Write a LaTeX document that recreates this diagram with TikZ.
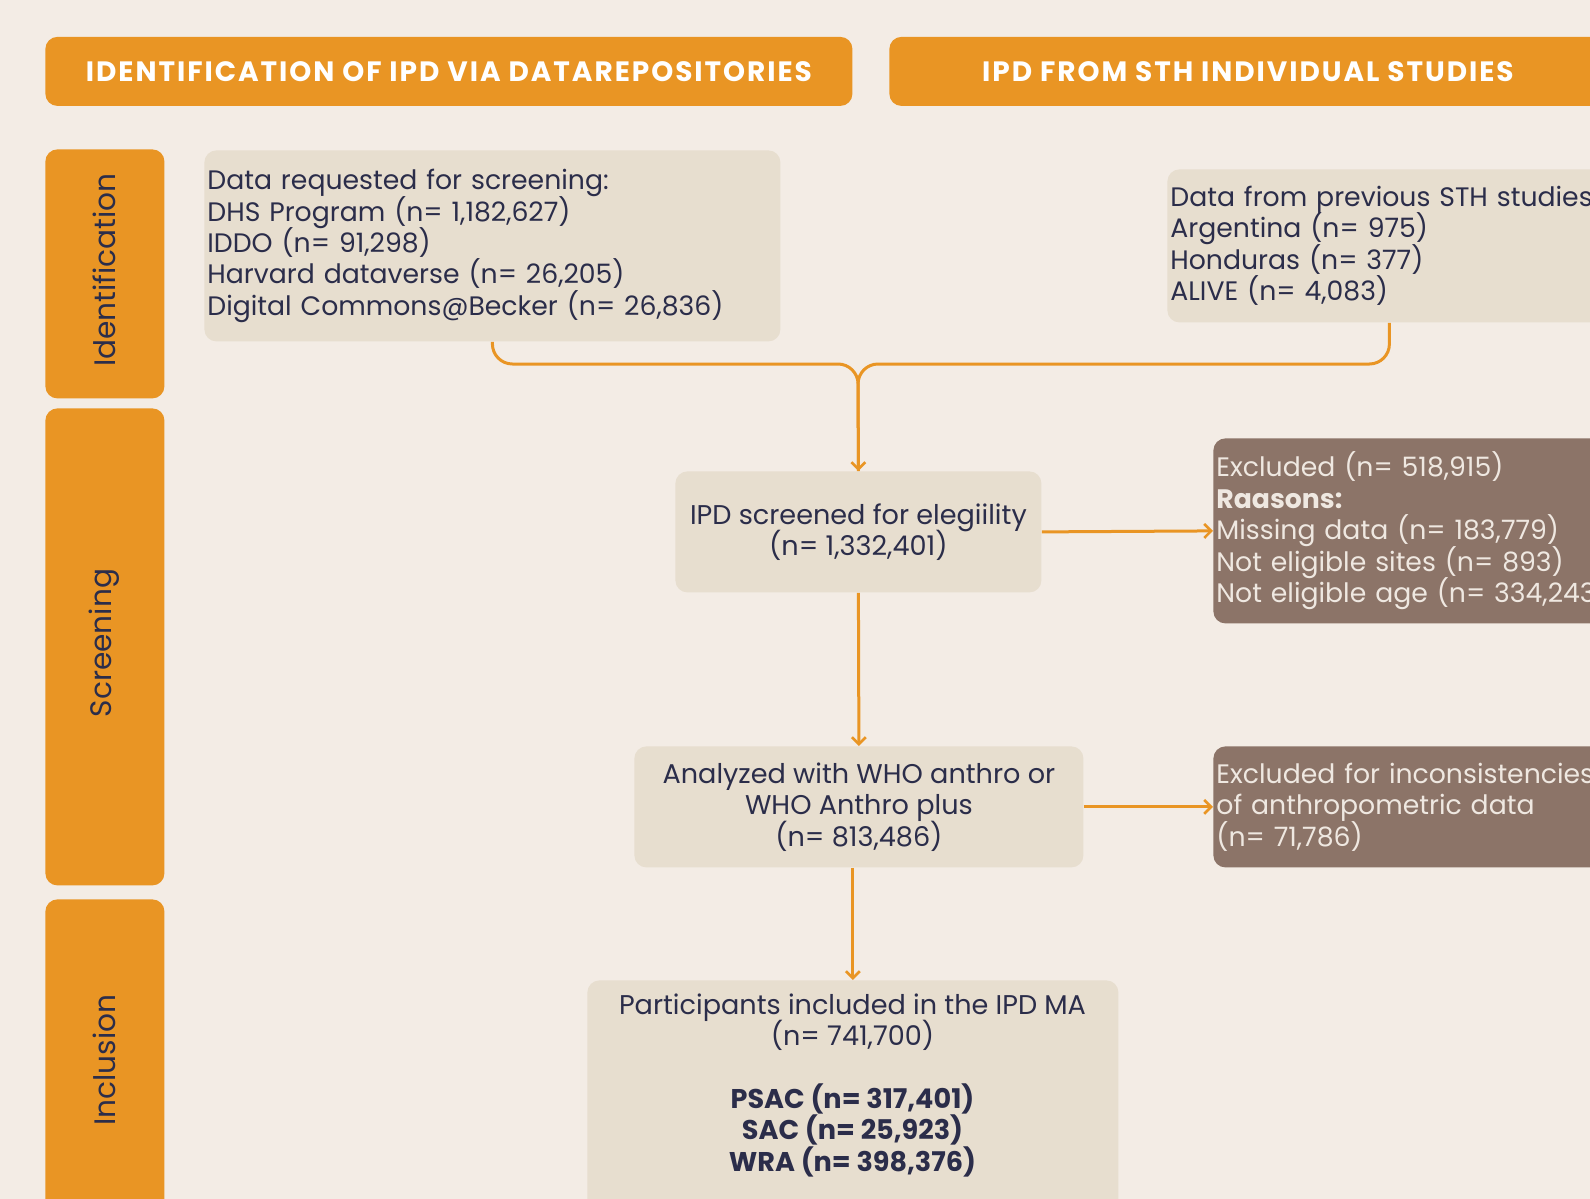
\documentclass[tikz,border=0pt]{standalone}
\usepackage{fontspec}
\setmainfont{Poppins}
\newfontfamily\hdrfont{Poppins}[LetterSpace=7]
\usetikzlibrary{arrows.meta}
\definecolor{bgc}{HTML}{F3ECE5}
\definecolor{orng}{HTML}{E99524}
\definecolor{boxc}{HTML}{E7DECF}
\definecolor{brn}{HTML}{8C7468}
\definecolor{ink}{HTML}{2B2D4A}
\definecolor{lite}{HTML}{EFE8E1}
\newcommand\mybodyfont{\fontsize{13.35}{15.7}\selectfont\setlength{\lineskiplimit}{-10pt}}
\newcommand\mycbodyfont{\fontsize{13.55}{15.7}\selectfont\setlength{\lineskiplimit}{-10pt}}
\tikzset{
  hdr/.style={fill=orng, rounded corners=6pt, minimum height=34.5pt, inner sep=0pt,
    text=white, font=\hdrfont\bfseries\fontsize{14}{16}\selectfont, anchor=north west},
  side/.style={fill=orng, rounded corners=6pt, minimum width=59.5pt, inner sep=0pt, anchor=north west},
  sidetext/.style={rotate=90, text=ink, font=\fontsize{14.8}{17}\selectfont, inner sep=0pt},
  body/.style={font=\mybodyfont},
  cbody/.style={font=\mycbodyfont},
  lbox/.style={body, fill=boxc, rounded corners=6pt, text=ink, align=left, inner xsep=1.5pt, inner ysep=0pt, anchor=north west},
  cbox/.style={cbody, fill=boxc, rounded corners=6pt, text=ink, align=center, inner sep=0pt, anchor=north west},
  xbox/.style={body, fill=brn, rounded corners=6pt, text=lite, align=left, inner xsep=1.5pt, inner ysep=0pt, anchor=north west},
  conn/.style={draw=orng, line width=1.5pt},
  arr/.style={conn, -{Straight Barb[length=3.5pt,width=7pt,line width=1.3pt]}}
}
\begin{document}
\begin{tikzpicture}[x=0.5pt,y=-0.5pt]
\useasboundingbox (0,0) rectangle (1590,1199);
\fill[bgc] (0,0) rectangle (1590,1199);
\clip (0,0) rectangle (1590,1199);

% headers
\node[hdr, minimum width=403.5pt] (h1) at (45,36.5) {IDENTIFICATION OF IPD VIA DATAREPOSITORIES};
\node[hdr, minimum width=358.5pt] (h2) at (889,36.5) {IPD FROM STH INDIVIDUAL STUDIES};

% side bars
\node[side, minimum height=124.5pt] (s1) at (45,149) {};
\node[side, minimum height=238.5pt] (s2) at (45,408) {};
\node[side, minimum height=161pt] (s3) at (45,899) {};
\node[sidetext] (t1) at (104,270) {Identification};
\node[sidetext] (t2) at (104,643) {Screening};
\node[sidetext] (t3) at (104,1060) {Inclusion};

% boxes
\node[lbox, text width=285pt, minimum height=95.5pt] (b1) at (204,150)
  {Data requested for screening:\\DHS Program (n= 1,182,627)\\IDDO (n= 91,298)\\Harvard dataverse (n= 26,205)\\Digital Commons@Becker (n= 26,836)};
\node[lbox, text width=219pt, minimum height=76.5pt] (b2) at (1167,169)
  {Data from previous STH studies:\\Argentina (n= 975)\\Honduras (n= 377)\\ALIVE (n= 4,083)};
\node[cbox, minimum width=183pt, minimum height=60.5pt] (b3) at (675,471)
  {IPD screened for elegiility\\(n= 1,332,401)};
\node[xbox, text width=196pt, minimum height=92.5pt] (x1) at (1213,438)
  {Excluded (n= 518,915)\\\textbf{Raasons:}\\Missing data (n= 183,779)\\Not eligible sites (n= 893)\\Not eligible age (n= 334,243)};
\node[cbox, minimum width=224.5pt, minimum height=60.5pt] (b4) at (634,746)
  {Analyzed with WHO anthro or\\WHO Anthro plus\\(n= 813,486)};
\node[xbox, text width=196pt, minimum height=60.5pt] (x2) at (1213,746)
  {Excluded for inconsistencies\\of anthropometric data\\(n= 71,786)};
\node[cbox, minimum width=265.5pt, minimum height=140pt] (b5) at (587,980) {};
\node[cbody, text=ink, align=center, anchor=north, inner sep=0pt] (b5t) at (852.5,993)
  {Participants included in the IPD MA\\(n= 741,700)\\[15.7pt]
   \textbf{PSAC (n= 317,401)}\\\textbf{SAC (n= 25,923)}\\\textbf{WRA (n= 398,376)}};

% connectors
\coordinate (j) at (858,364);
\draw[conn, rounded corners=10pt] (b1.south) |- (j) -- (b3.north);
\draw[arr, rounded corners=10pt] (b2.south) |- (j) -- (b3.north);
\draw[arr] (b3.east) -- (x1.west);
\draw[arr] (b3.south) -- (b4.north);
\draw[arr] (b4.east) -- (x2.west);
\draw[arr] (b4.south -| b5.north) -- (b5.north);
\end{tikzpicture}
\end{document}
